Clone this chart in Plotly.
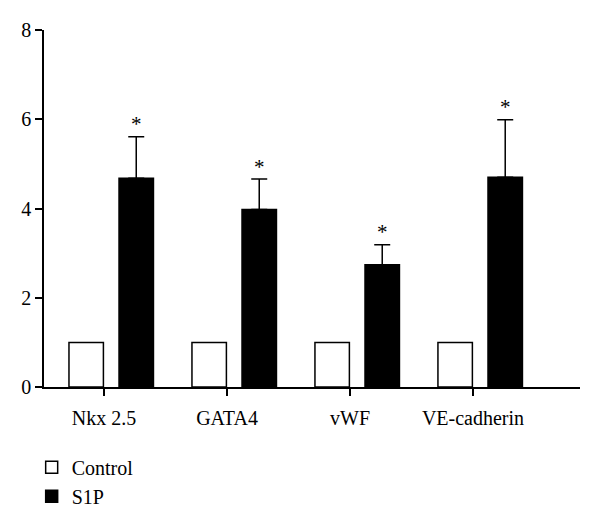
import plotly.graph_objects as go

categories = ["Nkx 2.5", "GATA4", "vWF", "VE-cadherin"]
control = [1.0, 1.0, 1.0, 1.0]
s1p = [4.68, 3.98, 2.74, 4.70]
s1p_err = [0.93, 0.68, 0.45, 1.29]
y_ticks = [0, 2, 4, 6, 8]

FONT = "Liberation Serif"
xpos = list(range(len(categories)))

fig = go.Figure()
fig.add_trace(go.Bar(
    x=xpos, y=control, name="Control",
    width=0.28, offset=-0.285,
    marker=dict(color="white", line=dict(color="black", width=1.5)),
))
fig.add_trace(go.Bar(
    x=xpos, y=s1p, name="S1P",
    width=0.28, offset=0.122,
    marker=dict(color="black", line=dict(color="black", width=1.5)),
    error_y=dict(type="data", symmetric=False, array=s1p_err,
                 arrayminus=[0] * len(s1p), color="black", thickness=1.5, width=8),
))
fig.add_trace(go.Scatter(
    x=[x + 0.262 for x in xpos], y=[v + e for v, e in zip(s1p, s1p_err)],
    mode="text", text=["*"] * len(s1p), textposition="top center",
    textfont=dict(family=FONT, size=21, color="black"),
    showlegend=False, hoverinfo="skip",
))

fig.update_layout(
    width=600, height=531,
    margin=dict(l=44, r=20, t=30, b=144),
    plot_bgcolor="white", paper_bgcolor="white",
    barmode="overlay",
    font=dict(family=FONT, size=20, color="black"),
    showlegend=True,
    legend=dict(x=-0.023, y=-0.17, xanchor="left", yanchor="top",
                font=dict(family=FONT, size=20), tracegroupgap=0,
                itemwidth=30),
)
fig.update_xaxes(
    range=[-0.488, 3.87], tickvals=xpos, ticktext=categories,
    showline=True, linecolor="black", linewidth=1.5,
    ticks="outside", ticklen=7, tickwidth=1.5, tickcolor="black",
    showgrid=False, zeroline=False, automargin=False, ticklabelstandoff=5,
)
fig.update_yaxes(
    range=[0, 8], tickvals=y_ticks,
    showline=True, linecolor="black", linewidth=1.5,
    ticks="outside", ticklen=7, tickwidth=1.5, tickcolor="black",
    showgrid=False, zeroline=False, automargin=False,
)
fig.write_html("out.html", config={"displayModeBar": False},
               post_script="document.body.style.margin='0';")
